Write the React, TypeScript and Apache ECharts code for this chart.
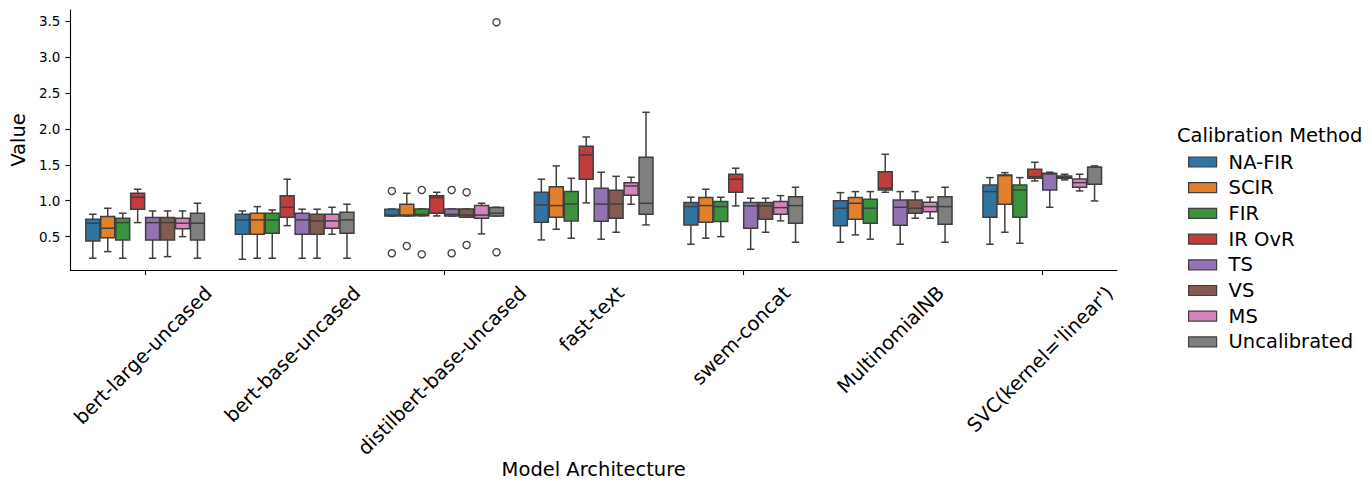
import React, { useEffect, useRef } from 'react';
import * as echarts from 'echarts';

const CATEGORIES = [
  'bert-large-uncased',
  'bert-base-uncased',
  'distilbert-base-uncased',
  'fast-text',
  'swem-concat',
  'MultinomialNB',
  "SVC(kernel='linear')",
];
const METHODS = ['NA-FIR', 'SCIR', 'FIR', 'IR OvR', 'TS', 'VS', 'MS', 'Uncalibrated'];
const COLORS = ['#3274a1', '#e1812c', '#3a923a', '#c03d3e', '#9372b2', '#845b53', '#d684bd', '#7f7f7f'];

// [low whisker, Q1, median, Q3, high whisker] per category
const NA_FIR = [
  [0.199, 0.44, 0.687, 0.742, 0.812],
  [0.185, 0.533, 0.733, 0.812, 0.858],
  [0.785, 0.788, 0.8, 0.882, 0.885],
  [0.454, 0.7, 0.941, 1.118, 1.3],
  [0.394, 0.663, 0.918, 0.974, 1.049],
  [0.422, 0.653, 0.895, 1.001, 1.113],
  [0.394, 0.77, 1.127, 1.22, 1.322],
];
const SCIR = [
  [0.291, 0.486, 0.617, 0.779, 0.895],
  [0.199, 0.533, 0.733, 0.826, 0.918],
  [0.788, 0.788, 0.8, 0.951, 1.104],
  [0.603, 0.77, 0.932, 1.196, 1.485],
  [0.478, 0.7, 0.932, 1.044, 1.16],
  [0.524, 0.742, 0.965, 1.044, 1.127],
  [0.561, 0.951, 1.35, 1.36, 1.391],
];
const FIR = [
  [0.199, 0.454, 0.695, 0.756, 0.826],
  [0.199, 0.547, 0.733, 0.826, 0.872],
  [0.79, 0.79, 0.81, 0.886, 0.886],
  [0.478, 0.719, 0.955, 1.127, 1.313],
  [0.5, 0.709, 0.918, 0.988, 1.049],
  [0.464, 0.686, 0.895, 1.021, 1.127],
  [0.408, 0.77, 1.15, 1.22, 1.322],
];
const IR_OVR = [
  [0.695, 0.882, 1.049, 1.104, 1.16],
  [0.653, 0.77, 0.909, 1.071, 1.3],
  [0.788, 0.826, 1.043, 1.071, 1.118],
  [0.97, 1.3, 1.638, 1.758, 1.888],
  [0.928, 1.118, 1.3, 1.369, 1.453],
  [1.118, 1.15, 1.174, 1.405, 1.647],
  [1.276, 1.313, 1.336, 1.439, 1.536],
];
const TS = [
  [0.199, 0.454, 0.695, 0.765, 0.858],
  [0.199, 0.533, 0.733, 0.826, 0.882],
  [0.788, 0.788, 0.81, 0.886, 0.886],
  [0.464, 0.714, 0.953, 1.174, 1.397],
  [0.324, 0.617, 0.928, 0.974, 1.035],
  [0.394, 0.658, 0.909, 1.011, 1.127],
  [0.909, 1.15, 1.373, 1.383, 1.397],
];
const VS = [
  [0.221, 0.454, 0.695, 0.765, 0.858],
  [0.199, 0.533, 0.719, 0.812, 0.882],
  [0.77, 0.77, 0.8, 0.886, 0.886],
  [0.561, 0.756, 0.953, 1.145, 1.34],
  [0.561, 0.742, 0.928, 0.977, 1.035],
  [0.756, 0.826, 0.895, 1.011, 1.127],
  [1.29, 1.313, 1.327, 1.345, 1.369],
];
const MS = [
  [0.5, 0.611, 0.687, 0.756, 0.858],
  [0.533, 0.617, 0.719, 0.812, 0.909],
  [0.538, 0.756, 0.8, 0.932, 0.965],
  [0.951, 1.077, 1.206, 1.252, 1.327],
  [0.719, 0.812, 0.904, 0.988, 1.071],
  [0.756, 0.848, 0.918, 0.979, 1.049],
  [1.136, 1.188, 1.252, 1.304, 1.369],
];
const UNCALIBRATED = [
  [0.199, 0.454, 0.687, 0.826, 0.965],
  [0.199, 0.547, 0.733, 0.84, 0.951],
  [0.788, 0.788, 0.826, 0.904, 0.909],
  [0.663, 0.812, 0.965, 1.606, 2.232],
  [0.422, 0.686, 0.932, 1.057, 1.188],
  [0.422, 0.672, 0.918, 1.057, 1.188],
  [0.997, 1.23, 1.466, 1.466, 1.485],
];
const SERIES_STATS = [NA_FIR, SCIR, FIR, IR_OVR, TS, VS, MS, UNCALIBRATED];

// [category index, method index, value]
const OUTLIERS = [
  [2, 0, 1.136], [2, 0, 0.268],
  [2, 1, 0.37],
  [2, 2, 1.15], [2, 2, 0.255],
  [2, 4, 1.15], [2, 4, 0.268],
  [2, 5, 1.118], [2, 5, 0.384],
  [2, 7, 3.486], [2, 7, 0.283],
];

const Y_TICKS = [0.5, 1.0, 1.5, 2.0, 2.5, 3.0, 3.5];
const Y_MIN = 0.035;
const Y_MAX = 3.657;

const LINE = '#3f3f3f';
const FONT = '"DejaVu Sans", sans-serif';
const BIG = 19.5;
const SMALL = 13.5;

function measureText(text: string, size: number): number {
  const ctx = document.createElement('canvas').getContext('2d');
  if (!ctx) return text.length * size * 0.55;
  ctx.font = `${size}px "DejaVu Sans"`;
  return ctx.measureText(text).width;
}

export default function App() {
  const ref = useRef<HTMLDivElement>(null);

  useEffect(() => {
    document.body.style.margin = '0';
    if (!ref.current) return;
    const chart = echarts.init(ref.current, null, { renderer: 'svg' });
    const nM = METHODS.length;

    const boxSeries = METHODS.map((name, mi) => ({
      type: 'custom',
      name,
      itemStyle: { color: COLORS[mi], borderColor: LINE, borderWidth: 1.2 },
      encode: { x: 0, y: [1, 2, 3, 4, 5] },
      data: SERIES_STATS[mi].map((s, ci) => [ci, ...s]),
      renderItem: (params: any, api: any) => {
        const cat = api.value(0);
        const vals = [1, 2, 3, 4, 5].map((k) => api.value(k));
        const band = api.size([1, 0])[0];
        const bw = (band * 0.8) / nM;
        const cx = api.coord([cat, vals[2]])[0] + (mi - (nM - 1) / 2) * bw;
        const ys = vals.map((v) => api.coord([cat, v])[1]);
        const [yLo, yQ1, yMed, yQ3, yHi] = ys;
        const half = (bw - 1) / 2;
        const cap = bw / 4;
        const ls = { stroke: LINE, lineWidth: 1.5 };
        return {
          type: 'group',
          children: [
            { type: 'line', shape: { x1: cx, y1: yQ1, x2: cx, y2: yLo }, style: ls },
            { type: 'line', shape: { x1: cx, y1: yQ3, x2: cx, y2: yHi }, style: ls },
            { type: 'line', shape: { x1: cx - cap, y1: yLo, x2: cx + cap, y2: yLo }, style: ls },
            { type: 'line', shape: { x1: cx - cap, y1: yHi, x2: cx + cap, y2: yHi }, style: ls },
            {
              type: 'rect',
              shape: { x: cx - half, y: yQ3, width: 2 * half, height: Math.max(yQ1 - yQ3, 0.5) },
              style: { fill: COLORS[mi], stroke: LINE, lineWidth: 1.5 },
            },
            { type: 'line', shape: { x1: cx - half, y1: yMed, x2: cx + half, y2: yMed }, style: ls },
          ],
        };
      },
    }));

    const outlierSeries = {
      type: 'custom',
      name: 'outliers',
      encode: { x: 0, y: 2 },
      data: OUTLIERS,
      renderItem: (params: any, api: any) => {
        const cat = api.value(0);
        const mi = api.value(1);
        const v = api.value(2);
        const band = api.size([1, 0])[0];
        const bw = (band * 0.8) / nM;
        const p = api.coord([cat, v]);
        return {
          type: 'circle',
          shape: { cx: p[0] + (mi - (nM - 1) / 2) * bw, cy: p[1], r: 3.6 },
          style: { fill: 'none', stroke: LINE, lineWidth: 1.3 },
        };
      },
    };

    const labelSeries = {
      type: 'custom',
      name: 'xlabels',
      silent: true,
      clip: false,
      encode: { x: 0, y: 1 },
      data: CATEGORIES.map((_, i) => [i, Y_MIN]),
      renderItem: (params: any, api: any) => {
        const i = api.value(0);
        const p = api.coord([i, Y_MIN]);
        const text = CATEGORIES[i];
        const w = measureText(text, BIG);
        const h = 22;
        const bb = (w + h) * Math.SQRT1_2;
        return {
          type: 'text',
          x: p[0] - 2,
          y: p[1] + 12 + bb / 2,
          rotation: Math.PI / 4,
          style: {
            text,
            fontSize: BIG,
            fontFamily: FONT,
            fill: '#000',
            align: 'center',
            verticalAlign: 'middle',
          },
        };
      },
    };

    chart.setOption({
      animation: false,
      backgroundColor: '#fff',
      textStyle: { fontFamily: FONT },
      title: {
        text: 'Calibration Method',
        left: 1177,
        top: 125,
        padding: 0,
        textStyle: { fontSize: BIG, fontWeight: 'normal', color: '#000', fontFamily: FONT },
      },
      legend: {
        orient: 'vertical',
        left: 1188,
        top: 152,
        padding: 0,
        itemWidth: 28,
        itemHeight: 10,
        itemGap: 5.7,
        icon: 'rect',
        selectedMode: false,
        textStyle: { fontSize: BIG, color: '#000', fontFamily: FONT, padding: [0, 0, 0, 7] },
        data: METHODS.map((name, i) => ({
          name,
          itemStyle: { color: COLORS[i], borderColor: LINE, borderWidth: 1.2 },
        })),
      },
      grid: { left: 67, right: 255, top: 10, bottom: 220, containLabel: false },
      xAxis: {
        type: 'category',
        data: CATEGORIES,
        boundaryGap: true,
        axisLine: { show: true, lineStyle: { color: '#000', width: 1.1 } },
        axisTick: { show: true, alignWithLabel: true, length: 5, lineStyle: { color: '#000', width: 1.1 } },
        axisLabel: { show: false },
        splitLine: { show: false },
        name: 'Model Architecture',
        nameLocation: 'middle',
        nameGap: 189,
        nameTextStyle: { fontSize: BIG, color: '#000', fontFamily: FONT },
      },
      yAxis: {
        type: 'value',
        min: Y_MIN,
        max: Y_MAX,
        axisLine: { show: true, lineStyle: { color: '#000', width: 1.1 } },
        axisTick: { show: true, length: 5, customValues: Y_TICKS, lineStyle: { color: '#000', width: 1.1 } },
        axisLabel: {
          show: true,
          customValues: Y_TICKS,
          formatter: (v: number) => v.toFixed(1),
          fontSize: SMALL,
          color: '#000',
          fontFamily: FONT,
          margin: 10,
        },
        splitLine: { show: false },
        name: 'Value',
        nameLocation: 'middle',
        nameGap: 42,
        nameRotate: 90,
        nameTextStyle: { fontSize: BIG, color: '#000', fontFamily: FONT },
      },
      series: [...boxSeries, outlierSeries, labelSeries],
    });

    return () => {
      chart.dispose();
    };
  }, []);

  return <div ref={ref} style={{ width: '1372px', height: '490px' }} />;
}
